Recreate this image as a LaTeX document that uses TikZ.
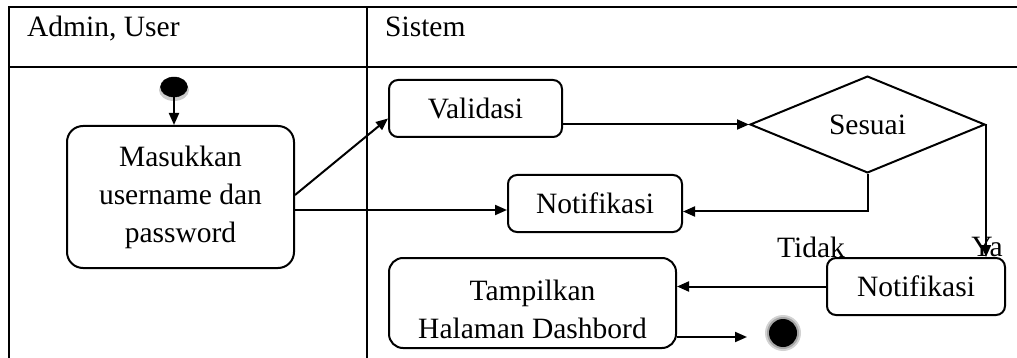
\documentclass[tikz,border=0pt]{standalone}
\usepackage{fontspec}
\setmainfont{Liberation Serif}
\usetikzlibrary{arrows.meta,shapes.geometric}
\begin{document}
\begin{tikzpicture}[x=1pt,y=-1pt,
  every node/.style={font=\fontsize{29.5}{38}\selectfont},
  frame/.style={line width=2pt},
  actbox/.style={draw,line width=2pt,rounded corners=#1,inner sep=0pt,align=center},
  actbox/.default=9pt,
  arr/.style={line width=2pt,-{Triangle[length=12pt,width=10pt]}},
  lbl/.style={inner sep=0pt}]
\useasboundingbox (0,0) rectangle (1017,358);

% swimlane frame
\draw[frame] (9,358) -- (9,7) -- (1017,7);
\draw[frame] (9,67) -- (1017,67);
\draw[frame] (367,7) -- (367,358);
\node[lbl,anchor=base west] (laneA) at (27,37) {Admin, User};
\node[lbl,anchor=base west] (laneB) at (385,37) {Sistem};

% start and end states
\fill[gray!40] (174,90) ellipse (15pt and 11pt);
\node[draw=black,fill=black,ellipse,minimum width=27pt,minimum height=20pt,inner sep=0pt] (start) at (174,87) {};
\fill[gray!35] (783,333) circle (18pt);
\fill[gray!70] (783,333) circle (16pt);
\node[circle,fill=black,minimum size=28pt,inner sep=0pt] (stop) at (783,333) {};
\coordinate (stoptip) at (747,337);

% activities
\node[actbox=16pt,minimum width=227pt,minimum height=142pt] (masuk) at (180.5,197) {Masukkan\\username dan\\password};
\node[actbox,minimum width=173pt,minimum height=57pt] (valid) at (475.5,108.5) {Validasi};
\node[actbox,minimum width=174pt,minimum height=57pt] (notifA) at (595,203.5) {Notifikasi};
\node[draw,diamond,line width=2pt,inner sep=0pt,minimum width=235pt,minimum height=95pt] (sesuai) at (867.5,124.5) {Sesuai};
\node[actbox,minimum width=178pt,minimum height=57pt] (notifB) at (916,286.5) {Notifikasi};
\node[actbox=14pt,minimum width=287pt,minimum height=90pt] (tampil) at (532.5,303) {};
\node[lbl,align=center] (tampiltext) at (532.5,309) {Tampilkan\\Halaman Dashbord};

% branch labels
\node[lbl] (tidak) at (811,247) {Tidak};
\node[lbl] (ya) at (987,247) {Ya};

% flows
\draw[arr] (start) -- (start |- masuk.north);
\draw[arr] ([yshift=2pt]masuk.east) -- ([yshift=-10pt]valid.west);
\draw[arr] ([yshift=-13pt]masuk.east) -- ([yshift=-13pt]masuk.east -| notifA.west);
\draw[arr] (valid.east |- sesuai.west) -- (sesuai.west);
\draw[arr] (sesuai.south) |- ([yshift=-8pt]notifA.east);
\draw[arr] (sesuai.east) -- (sesuai.east |- notifB.north);
\draw[arr] (notifB.west) -- (notifB.west -| tampil.east);
\draw[arr] ([yshift=-34pt]tampil.east) -- (stoptip);
\end{tikzpicture}
\end{document}
